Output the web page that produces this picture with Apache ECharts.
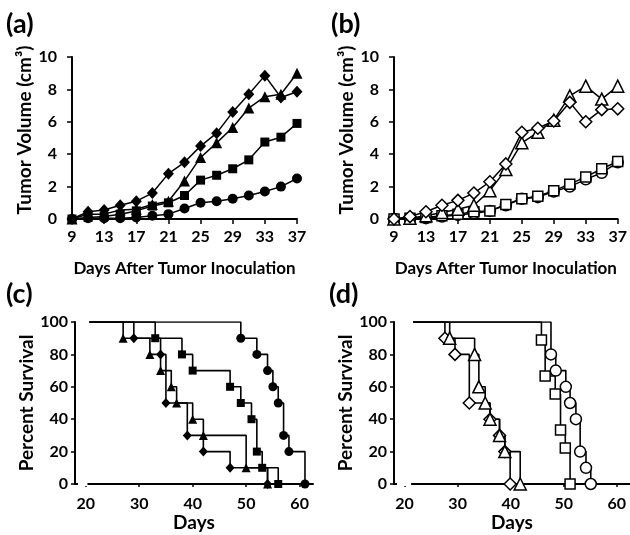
<!DOCTYPE html>
<html><head><meta charset="utf-8">
<script src="https://cdn.jsdelivr.net/npm/echarts@6/dist/echarts.min.js"></script>
<style>html,body{margin:0;padding:0;background:#fff}#c{width:630px;height:535px}</style>
</head><body><div id="c"></div>
<script>
// ---------- data ----------
const volDays = ['9','11','13','15','17','19','21','23','25','27','29','31','33','35','37'];
// panel (a) filled markers
const aDiamond  = [0,0.45,0.55,0.85,1.1,1.6,2.8,3.5,4.5,5.3,6.6,7.7,8.85,7.5,7.85];
const aTriangle = [0,0.3,0.3,0.55,0.6,0.9,1.1,2.35,3.8,4.7,5.65,6.85,7.55,7.7,9.0];
const aSquare   = [0,0.1,0.15,0.3,0.5,0.8,1.0,1.45,2.4,2.7,3.1,3.65,4.75,5.05,5.9];
const aCircle   = [0,0.05,0.05,0.05,0.1,0.2,0.3,0.65,1.0,1.1,1.25,1.45,1.7,2.0,2.5];
// panel (b) open markers
const bDiamond  = [0,0.15,0.45,0.85,1.15,1.6,2.3,3.4,5.35,5.6,6.05,7.2,6.0,6.75,6.8];
const bTriangle = [0,0.05,0.2,0.4,0.6,0.85,1.75,3.05,4.7,5.35,6.1,7.6,8.2,7.4,8.2];
const bSquare   = [0,0.05,0.1,0.2,0.3,0.45,0.5,0.9,1.25,1.4,1.75,2.15,2.6,3.1,3.55];
const bCircle   = [0,0.05,0.05,0.15,0.25,0.35,0.5,0.85,1.25,1.35,1.7,2.0,2.45,2.85,3.5];
// panel (c) survival, filled markers
const cStart = 20.7;
const cTriDays = [27,32,34,36,37,40,42,50,54];
const cTriSurv = [90,80,70,60,50,40,30,10,0];
const cDiaDays = [29,34,35,39,42,47,54];
const cDiaSurv = [90,80,50,30,20,10,0];
const cSqDays  = [33,38,40,47,49,51,52,53,56];
const cSqSurv  = [90,80,70,60,50,40,20,10,0];
const cCirDays = [49,52,54,55,56,57,58,61];
const cCirSurv = [90,80,70,60,50,30,20,0];
// panel (d) survival, open markers
const dStart = 21.6;
const dDiaDays = [27.6,29.5,32.2,36.1,37.9,38.9,39.9];
const dDiaSurv = [90,80,50,40,30,20,0];
const dTriDays = [28.5,33.2,34,35.2,36.1,37.9,38.9,41.8];
const dTriSurv = [90,80,60,50,40,30,20,0];
const dSqDays  = [45.8,46.5,48.4,49.4,50.3,51.2];
const dSqSurv  = [88.9,66.7,55.6,33.3,22.2,0];
const dCirDays = [47.6,48.5,50.4,51.2,52.3,53.1,54.2,55.1];
const dCirSurv = [80,70,60,50,40,20,10,0];
// tick labels / texts
const panelLetters = ['(a)','(b)','(c)','(d)'];
const volXName = 'Days After Tumor Inoculation';
const volYName = 'Tumor Volume (cm³)';
const survXName = 'Days';
const survYName = 'Percent Survival';

// ---------- chart ----------
const FONT = 'Lato';
const chart = echarts.init(document.getElementById('c'));

const lbl = (margin) => ({color:'#000', fontFamily:FONT, fontWeight:'bold', fontSize:16, margin});
const nameStyle = (extra) => Object.assign({color:'#000', fontFamily:FONT, fontWeight:'bold', fontSize:17}, extra||{});
const axLine = {show:true, onZero:false, lineStyle:{color:'#000', width:2}};

function volX(i){
  return {type:'category', gridIndex:i, data:volDays, boundaryGap:false,
    axisLine:axLine, axisTick:{show:true, interval:1, length:5, lineStyle:{color:'#000',width:1.5}},
    axisLabel:Object.assign(lbl(10),{interval:1}), splitLine:{show:false},
    name:volXName, nameLocation:'middle', nameGap:41, nameTextStyle:nameStyle()};
}
function volY(i){
  return {type:'value', gridIndex:i, min:0, max:10, interval:2,
    axisLine:axLine, axisTick:{show:true, length:5, lineStyle:{color:'#000',width:1.5}},
    axisLabel:lbl(15), splitLine:{show:false},
    name:volYName, nameLocation:'middle', nameGap:38, nameTextStyle:nameStyle({fontSize:19, padding:[0,0,0,16]})};
}
function survX(i){
  return {type:'value', gridIndex:i, min:18, max:62.5,
    axisLine:axLine, axisTick:{show:true, length:3, lineStyle:{color:'#000',width:1.5}},
    axisLabel:Object.assign(lbl(12),{showMinLabel:false, showMaxLabel:false}), splitLine:{show:false},
    name:survXName, nameLocation:'middle', nameGap:21, nameTextStyle:nameStyle({fontSize:19})};
}
function survY(i){
  return {type:'value', gridIndex:i, min:0, max:100, interval:20,
    axisLine:axLine, axisTick:{show:true, length:4, lineStyle:{color:'#000',width:1.5}},
    axisLabel:lbl(7), splitLine:{show:false},
    name:survYName, nameLocation:'middle', nameGap:37, nameTextStyle:nameStyle({fontSize:19})};
}

function volSeries(idx, data, symbol, size, open){
  return {type:'line', xAxisIndex:idx, yAxisIndex:idx, data, symbol, symbolSize:size,
    showAllSymbol:true, lineStyle:{color:'#000', width:1.5},
    itemStyle:{color:open?'#fff':'#000', borderColor:'#000', borderWidth:open?1.5:0, opacity:1},
    emphasis:{disabled:true}, animation:false};
}
function kmSeries(idx, start, days, surv, symbol, size, open){
  const data = [{value:[start,100], symbol:'none'}].concat(days.map((d,k)=>[d, surv[k]]));
  return {type:'line', step:'end', xAxisIndex:idx, yAxisIndex:idx, data, symbol, symbolSize:size,
    showAllSymbol:true, lineStyle:{color:'#000', width:1.6},
    itemStyle:{color:open?'#fff':'#000', borderColor:'#000', borderWidth:open?1.5:0, opacity:1},
    emphasis:{disabled:true}, animation:false};
}

const option = {
  backgroundColor:'#fff',
  animation:false,
  title: [
    {text:panelLetters[0], left:6, top:11},
    {text:panelLetters[1], left:331, top:11},
    {text:panelLetters[2], left:6, top:281},
    {text:panelLetters[3], left:329, top:281}
  ].map(t => Object.assign(t, {textStyle:{color:'#000', fontFamily:FONT, fontWeight:'bold', fontSize:27}, padding:0})),
  grid: [
    {left:72, right:333, top:57, bottom:316},
    {left:394, right:9, top:57, bottom:316},
    {left:75, right:317, top:322, bottom:51},
    {left:394, right:0, top:322, bottom:51}
  ],
  xAxis:[volX(0), volX(1), survX(2), survX(3)],
  yAxis:[volY(0), volY(1), survY(2), survY(3)],
  visualMap:[{type:'piecewise', show:false, seriesIndex:[8,9,10,11], dimension:1,
    pieces:[{min:-1, max:99.5, color:'#000'}, {min:99.5, max:101, color:'#8c8c8c'}]}],
  series:[
    volSeries(0, aCircle, 'circle', 10, false),
    volSeries(0, aSquare, 'rect', 9, false),
    volSeries(0, aTriangle, 'triangle', 11, false),
    volSeries(0, aDiamond, 'diamond', [11,12], false),
    volSeries(1, bCircle, 'circle', 11, true),
    volSeries(1, bSquare, 'rect', 10, true),
    volSeries(1, bTriangle, 'triangle', 12, true),
    volSeries(1, bDiamond, 'diamond', [12,12], true),
    kmSeries(2, cStart, cDiaDays, cDiaSurv, 'diamond', [9,10], false),
    kmSeries(2, cStart, cTriDays, cTriSurv, 'triangle', 9, false),
    kmSeries(2, cStart, cSqDays, cSqSurv, 'rect', 8, false),
    kmSeries(2, cStart, cCirDays, cCirSurv, 'circle', 9, false),
    kmSeries(3, dStart, dDiaDays, dDiaSurv, 'diamond', [12,12], true),
    kmSeries(3, dStart, dTriDays, dTriSurv, 'triangle', 12, true),
    kmSeries(3, dStart, dSqDays, dSqSurv, 'rect', 10, true),
    kmSeries(3, dStart, dCirDays, dCirSurv, 'circle', 11, true)
  ]
};
chart.setOption(option);

// axis break: blank the x-axis line between the y axis and the curves' start
function breakRect(gi, start){
  const p0 = chart.convertToPixel({gridIndex:gi}, [18, 0]);
  const p1 = chart.convertToPixel({gridIndex:gi}, [start, 0]);
  return {type:'rect', z:100, shape:{x:p0[0]+3, y:p0[1]-2, width:p1[0]-p0[0]-5, height:4},
    style:{fill:'#fff'}};
}
chart.setOption({graphic:[breakRect(2, cStart), breakRect(3, dStart)]});
</script></body></html>
